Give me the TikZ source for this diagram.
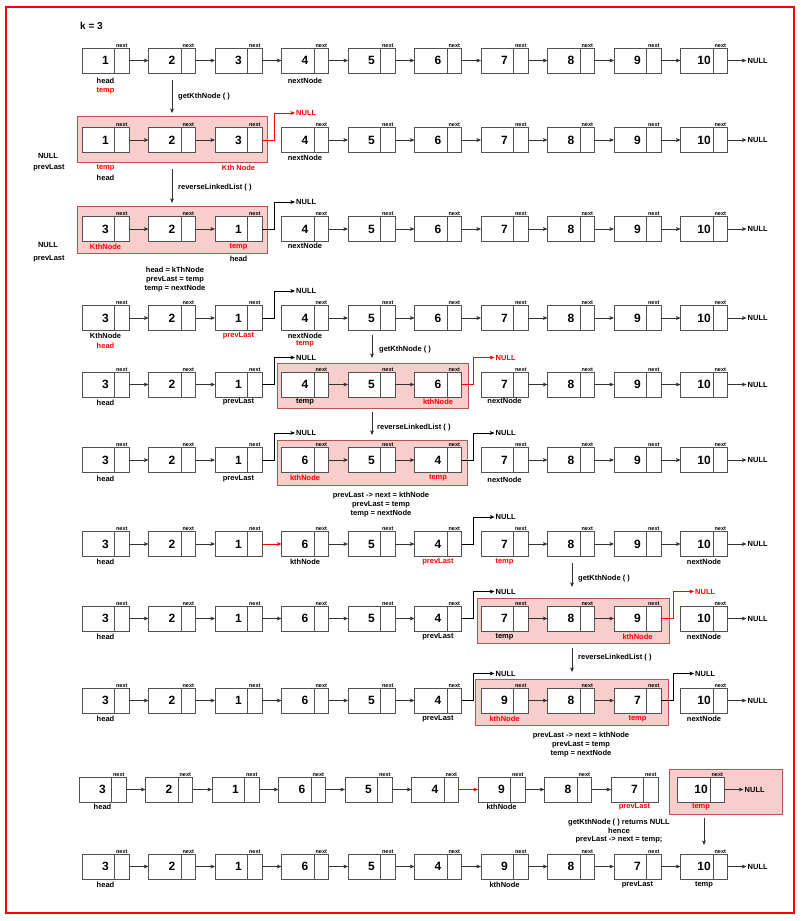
\documentclass[tikz,border=0pt]{standalone}
\usepackage{fontspec}
\setmainfont{Liberation Sans}
\usetikzlibrary{calc,arrows.meta}
\definecolor{pinkfill}{HTML}{F8CECC}
\definecolor{pinkdraw}{HTML}{B85450}
\definecolor{redc}{HTML}{FF0000}
\definecolor{edgec}{HTML}{333333}
\tikzset{
  lnode/.style={draw=edgec!85, line width=0.8pt, fill=white, minimum width=47pt, minimum height=25pt,
    inner sep=0pt, outer sep=0pt, font=\fontsize{12}{12}\selectfont\bfseries,
    path picture={\draw[edgec!85, line width=0.8pt] ([xshift=-14.5pt]path picture bounding box.north east) -- ([xshift=-14.5pt]path picture bounding box.south east);},
    label={[nextlbl, xshift=16.25pt]above:next}},
  nextlbl/.style={font=\fontsize{5.5}{6}\selectfont\bfseries, inner sep=0.3pt, label distance=0pt},
  lbl/.style={font=\fontsize{7.5}{9}\selectfont\bfseries, inner sep=0pt},
  blk/.style={font=\fontsize{7.5}{9}\selectfont\bfseries, inner sep=0pt, align=center},
  nulltxt/.style={font=\fontsize{7.5}{9}\selectfont\bfseries, inner sep=1pt},
  arr/.style={draw=edgec, line width=0.7pt, -{Stealth[length=4.5pt,width=3.8pt,inset=1pt]}},
  pinkbox/.style={fill=pinkfill, draw=pinkdraw, line width=1pt},
}
\newcommand{\lrow}[4]{%
  \foreach \v [count=\i from 0] in {#4}{%
    \node[lnode] (#1v\v) at ({#2+23.5+66.5*\i},#3) {\makebox[32.5pt]{\v}\hspace{14.5pt}};
  }}
\newcommand{\chain}[2]{\foreach \a/\b in {#2}{\draw[arr] (#1v\a.east) -- (#1v\b.west);}}
\newcommand{\tailnull}[2]{%
  \node[nulltxt, anchor=west] (#1tailnull) at ($(#1v#2.east)+(19,0)$) {NULL};
  \draw[arr] (#1v#2.east) -- (#1tailnull.west);}
\newcommand{\upnull}[3]{%
  \node[nulltxt, anchor=west, text=#3] (#1up#2) at ($(#1v#2.east)+(33,-27)$) {NULL};
  \draw[arr, draw=#3] (#1v#2.east) -- ++(12,0) |- (#1up#2.west);}
\newcommand{\lab}[4]{\node[lbl, text=#4] (#1-l#2) at ($(#1.south)+(0,#2)$) {#3};}
\begin{document}
\begin{tikzpicture}[x=1pt,y=-1pt]
\useasboundingbox (0,0) rectangle (803,921);
\draw[redc, line width=2pt] (6,7) rectangle (794,913);
\node[anchor=west, inner sep=0pt, font=\fontsize{10}{12}\selectfont\bfseries] (ktitle) at (80,26) {k = 3};

% pink boxes
\draw[pinkbox] (77,116) rectangle (267,162);
\draw[pinkbox] (77,206) rectangle (267,253);
\draw[pinkbox] (277,363) rectangle (468,408);
\draw[pinkbox] (277,440) rectangle (467,485);
\draw[pinkbox] (477,598) rectangle (669,643);
\draw[pinkbox] (475,679) rectangle (668,725);
\draw[pinkbox] (669,769) rectangle (782,814);

% Row 1
\lrow{r1}{82}{60.5}{1,2,3,4,5,6,7,8,9,10}
\chain{r1}{1/2,2/3,3/4,4/5,5/6,6/7,7/8,8/9,9/10}
\tailnull{r1}{10}
\lab{r1v1}{8}{head}{black}
\lab{r1v1}{18}{temp}{redc}
\lab{r1v4}{8}{nextNode}{black}

\coordinate (a1s) at (172,80); \coordinate (a1e) at (172,113);
\draw[arr] (a1s) -- (a1e);
\node[lbl, anchor=west] (a1l) at (178,97) {getKthNode ( )};

% Row 2
\lrow{r2}{82}{140}{1,2,3,4,5,6,7,8,9,10}
\chain{r2}{1/2,2/3,4/5,5/6,6/7,7/8,8/9,9/10}
\upnull{r2}{3}{redc}
\tailnull{r2}{10}
\lab{r2v1}{15}{temp}{redc}
\lab{r2v1}{25}{head}{black}
\lab{r2v3}{15}{Kth Node}{redc}
\lab{r2v4}{5}{nextNode}{black}
\node[lbl] (r2null) at (48,156) {NULL};
\node[lbl] (r2prev) at (49,168) {prevLast};

\coordinate (a2s) at (172,169); \coordinate (a2e) at (172,203);
\draw[arr] (a2s) -- (a2e);
\node[lbl, anchor=west] (a2l) at (178,188) {reverseLinkedList ( )};

% Row 3
\lrow{r3}{82}{229}{3,2,1,4,5,6,7,8,9,10}
\chain{r3}{3/2,2/1,4/5,5/6,6/7,7/8,8/9,9/10}
\upnull{r3}{1}{black}
\tailnull{r3}{10}
\lab{r3v3}{5}{KthNode}{redc}
\lab{r3v1}{5}{temp}{redc}
\lab{r3v1}{17}{head}{black}
\lab{r3v4}{4}{nextNode}{black}
\node[lbl] (r3null) at (48,245) {NULL};
\node[lbl] (r3prev) at (49,259) {prevLast};

\node[blk] (b1) at (175,280) {head = kThNode\\prevLast = temp\\temp = nextNode};

% Row 4
\lrow{r4}{82}{318}{3,2,1,4,5,6,7,8,9,10}
\chain{r4}{3/2,2/1,4/5,5/6,6/7,7/8,8/9,9/10}
\upnull{r4}{1}{black}
\tailnull{r4}{10}
\lab{r4v3}{5}{KthNode}{black}
\lab{r4v3}{15}{head}{redc}
\lab{r4v1}{5}{prevLast}{redc}
\lab{r4v4}{5}{nextNode}{black}
\lab{r4v4}{13}{temp}{redc}

\coordinate (a3s) at (372,335); \coordinate (a3e) at (372,358);
\draw[arr] (a3s) -- (a3e);
\node[lbl, anchor=west] (a3l) at (379,350) {getKthNode ( )};

% Row 5
\lrow{r5}{82}{384.5}{3,2,1,4,5,6,7,8,9,10}
\chain{r5}{3/2,2/1,4/5,5/6,7/8,8/9,9/10}
\upnull{r5}{1}{black}
\upnull{r5}{6}{redc}
\tailnull{r5}{10}
\lab{r5v3}{6}{head}{black}
\lab{r5v1}{5}{prevLast}{black}
\lab{r5v4}{5}{temp}{black}
\lab{r5v6}{5}{kthNode}{redc}
\lab{r5v7}{4}{nextNode}{black}

\coordinate (a4s) at (372,412); \coordinate (a4e) at (372,435);
\draw[arr] (a4s) -- (a4e);
\node[lbl, anchor=west] (a4l) at (377,428) {reverseLinkedList ( )};

% Row 6
\lrow{r6}{82}{460}{3,2,1,6,5,4,7,8,9,10}
\chain{r6}{3/2,2/1,6/5,5/4,7/8,8/9,9/10}
\upnull{r6}{1}{black}
\upnull{r6}{4}{black}
\tailnull{r6}{10}
\lab{r6v3}{6}{head}{black}
\lab{r6v1}{6}{prevLast}{black}
\lab{r6v6}{5}{kthNode}{redc}
\lab{r6v4}{5}{temp}{redc}
\lab{r6v7}{7}{nextNode}{black}

\node[blk] (b2) at (381,505) {prevLast -> next = kthNode\\prevLast = temp\\temp = nextNode};

% Row 7
\lrow{r7}{82}{544}{3,2,1,6,5,4,7,8,9,10}
\chain{r7}{3/2,2/1,6/5,5/4,7/8,8/9,9/10}
\draw[arr, draw=redc] (r7v1.east) -- (r7v6.west);
\upnull{r7}{4}{black}
\tailnull{r7}{10}
\lab{r7v3}{5}{head}{black}
\lab{r7v6}{5}{kthNode}{black}
\lab{r7v4}{5}{prevLast}{redc}
\lab{r7v7}{5}{temp}{redc}
\lab{r7v10}{5}{nextNode}{black}

\coordinate (a5s) at (572,563); \coordinate (a5e) at (572,587);
\draw[arr] (a5s) -- (a5e);
\node[lbl, anchor=west] (a5l) at (578,579) {getKthNode ( )};

% Row 8
\lrow{r8}{82}{618.5}{3,2,1,6,5,4,7,8,9,10}
\chain{r8}{3/2,2/1,1/6,6/5,5/4,7/8,8/9}
\upnull{r8}{4}{black}
\upnull{r8}{9}{redc}
\tailnull{r8}{10}
\lab{r8v3}{6}{head}{black}
\lab{r8v4}{6}{prevLast}{black}
\lab{r8v7}{6}{temp}{black}
\lab{r8v9}{6}{kthNode}{redc}
\lab{r8v10}{6}{nextNode}{black}

\coordinate (a6s) at (572,648); \coordinate (a6e) at (572,672);
\draw[arr] (a6s) -- (a6e);
\node[lbl, anchor=west] (a6l) at (578,658) {reverseLinkedList ( )};

% Row 9
\lrow{r9}{82}{700.5}{3,2,1,6,5,4,9,8,7,10}
\chain{r9}{3/2,2/1,1/6,6/5,5/4,9/8,8/7}
\upnull{r9}{4}{black}
\upnull{r9}{7}{black}
\tailnull{r9}{10}
\lab{r9v3}{6}{head}{black}
\lab{r9v4}{6}{prevLast}{black}
\lab{r9v9}{6}{kthNode}{redc}
\lab{r9v7}{6}{temp}{redc}
\lab{r9v10}{6}{nextNode}{black}

\node[blk] (b3) at (581,745) {prevLast -> next = kthNode\\prevLast = temp\\temp = nextNode};

% Row 10
\lrow{r10}{79}{789.5}{3,2,1,6,5,4,9,8,7,10}
\chain{r10}{3/2,2/1,1/6,6/5,5/4,9/8,8/7}
\draw[arr, draw=redc] (r10v4.east) -- (r10v9.west);
\tailnull{r10}{10}
\lab{r10v3}{5}{head}{black}
\lab{r10v9}{5}{kthNode}{black}
\lab{r10v7}{5}{prevLast}{redc}
\lab{r10v10}{5}{temp}{redc}

\coordinate (a7s) at (704,818); \coordinate (a7e) at (704,845);
\draw[arr] (a7s) -- (a7e);
\node[blk, font=\fontsize{7.5}{8.5}\selectfont\bfseries] (b4) at (619,831.5) {getKthNode ( ) returns NULL\\hence\\prevLast -> next = temp;};

% Row 11
\lrow{r11}{82}{866.5}{3,2,1,6,5,4,9,8,7,10}
\chain{r11}{3/2,2/1,1/6,6/5,5/4,4/9,9/8,8/7,7/10}
\tailnull{r11}{10}
\lab{r11v3}{6}{head}{black}
\lab{r11v9}{6}{kthNode}{black}
\lab{r11v7}{6}{prevLast}{black}
\lab{r11v10}{6}{temp}{black}
\end{tikzpicture}
\end{document}
